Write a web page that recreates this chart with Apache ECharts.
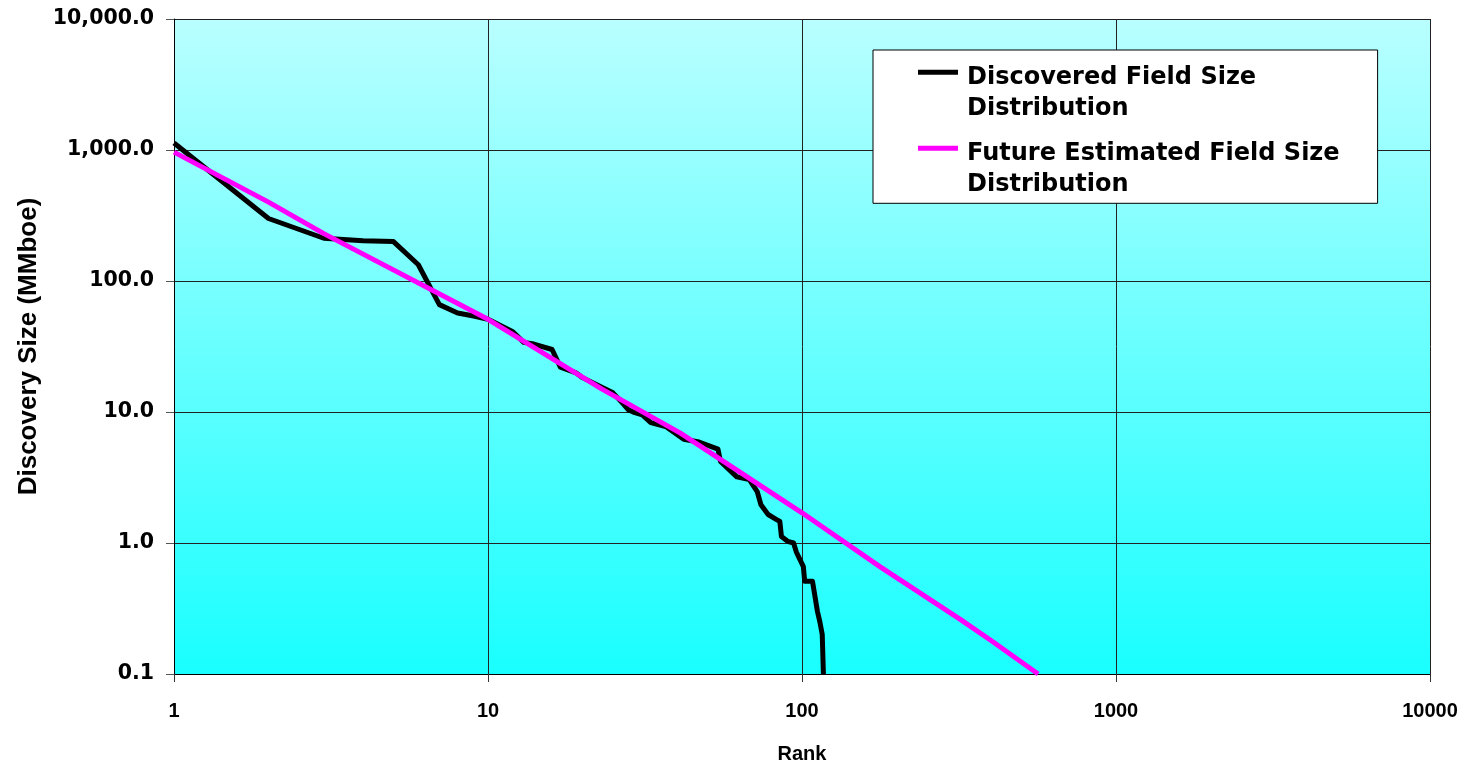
<!DOCTYPE html>
<html>
<head>
<meta charset="utf-8">
<title>Field Size Distribution</title>
<script src="https://cdn.jsdelivr.net/npm/echarts@6/dist/echarts.min.js"></script>
<style>
  html, body { margin: 0; padding: 0; background: #fff; }
  #chart { width: 1478px; height: 766px; }
</style>
</head>
<body>
<div id="chart"></div>
<script>
// discovered fields: rank / size (MMboe)
var discoveredRank = [1, 2, 3, 4, 5, 6, 7, 8, 9, 10, 12, 13, 14, 16, 17, 19, 20, 25, 27, 28, 29, 31, 33, 37, 42, 47, 54, 55, 62, 68, 72, 74, 78, 83, 85, 86, 90, 94, 96, 101, 102, 108, 112, 114, 116, 117];
var discoveredSize = [1130, 300, 212, 203, 200, 133, 66, 57, 54, 51, 41, 34, 33, 30, 22, 20, 18.3, 14, 11.5, 10.4, 10, 9.5, 8.3, 7.7, 6.2, 5.9, 5.2, 4.2, 3.2, 3.05, 2.47, 1.96, 1.65, 1.51, 1.46, 1.12, 1.03, 1.0, 0.85, 0.66, 0.51, 0.51, 0.3, 0.25, 0.2, 0.1];

// future estimated distribution
var futureRank = [1, 2, 3, 10, 23, 41, 100, 177, 320, 400, 565];
var futureSize = [964, 400, 230, 51, 15, 6.9, 1.7, 0.66, 0.26, 0.18, 0.1];

var seriesNames = ['Discovered Field Size Distribution', 'Future Estimated Field Size Distribution'];
var xTicks = [1, 10, 100, 1000, 10000];
var yTicks = [0.1, 1, 10, 100, 1000, 10000];

function pairs(xs, ys) {
  var out = [];
  for (var i = 0; i < xs.length; i++) {
    out.push([xs[i], ys[i]]);
  }
  return out;
}

var myChart = echarts.init(document.getElementById('chart'));

var option = {
  animation: false,
  grid: {
    left: 174,
    right: 48,
    top: 19,
    bottom: 92,
    outerBoundsMode: 'none',
    show: true,
    borderWidth: 0,
    backgroundColor: new echarts.graphic.LinearGradient(0, 0, 0, 1, [
      { offset: 0, color: '#b9ffff' },
      { offset: 1, color: '#19ffff' }
    ])
  },
  legend: {
    orient: 'vertical',
    left: 873,
    top: 50,
    padding: [11.6, 38, 2.3, 45],
    itemGap: 12.6,
    itemWidth: 44,
    itemHeight: 47,
    // bar at the top of the item so it sits beside the first text line
    icon: 'path://M0,0H40V5H0Z M44,47h0.01v0.01h-0.01Z',
    backgroundColor: '#fff',
    borderColor: '#000',
    borderWidth: 1,
    borderRadius: 0,
    itemStyle: { borderWidth: 0 },
    textStyle: {
      fontFamily: 'DejaVu Sans',
      fontWeight: 'bold',
      fontSize: 24,
      lineHeight: 31.7,
      color: '#000'
    },
    formatter: function (name) {
      return name.replace(' Distribution', '\nDistribution');
    },
    data: seriesNames
  },
  xAxis: {
    type: 'log',
    logBase: 10,
    min: xTicks[0],
    max: xTicks[xTicks.length - 1],
    name: 'Rank',
    nameLocation: 'middle',
    nameGap: 70,
    nameTextStyle: {
      fontFamily: '"Liberation Sans"',
      fontWeight: 'bold',
      fontSize: 20,
      color: '#000'
    },
    axisLine: { show: true, lineStyle: { color: '#000', width: 1 } },
    axisTick: { show: true, inside: false, length: 8, lineStyle: { color: '#333' } },
    axisLabel: {
      margin: 27,
      fontFamily: '"Liberation Sans"',
      fontWeight: 'bold',
      fontSize: 20,
      color: '#000',
      formatter: function (v) { return String(Math.round(v)); }
    },
    splitLine: { show: true, lineStyle: { color: '#222', width: 1 } },
    minorTick: { show: false }
  },
  yAxis: {
    type: 'log',
    logBase: 10,
    min: yTicks[0],
    max: yTicks[yTicks.length - 1],
    name: 'Discovery Size (MMboe)',
    nameLocation: 'middle',
    nameRotate: 90,
    nameGap: 123,
    nameTextStyle: {
      fontFamily: '"Liberation Sans"',
      fontWeight: 'bold',
      fontSize: 26,
      color: '#000'
    },
    axisLine: { show: true, lineStyle: { color: '#000', width: 1 } },
    axisTick: { show: true, inside: false, length: 8, lineStyle: { color: '#555' } },
    axisLabel: {
      margin: 20,
      fontFamily: 'DejaVu Sans',
      fontWeight: 'bold',
      fontSize: 20.5,
      color: '#000',
      formatter: function (v) {
        return Number(v).toLocaleString('en-US', { minimumFractionDigits: 1, maximumFractionDigits: 1 });
      }
    },
    splitLine: { show: true, lineStyle: { color: '#222', width: 1 } }
  },
  series: [
    {
      name: seriesNames[0],
      type: 'line',
      data: pairs(discoveredRank, discoveredSize),
      symbol: 'none',
      color: '#000',
      lineStyle: { color: '#000', width: 5, join: 'round' },
      z: 2
    },
    {
      name: seriesNames[1],
      type: 'line',
      data: pairs(futureRank, futureSize),
      symbol: 'none',
      color: '#ff00ff',
      lineStyle: { color: '#ff00ff', width: 5 },
      z: 3
    }
  ]
};

option && myChart.setOption(option);
</script>
</body>
</html>
